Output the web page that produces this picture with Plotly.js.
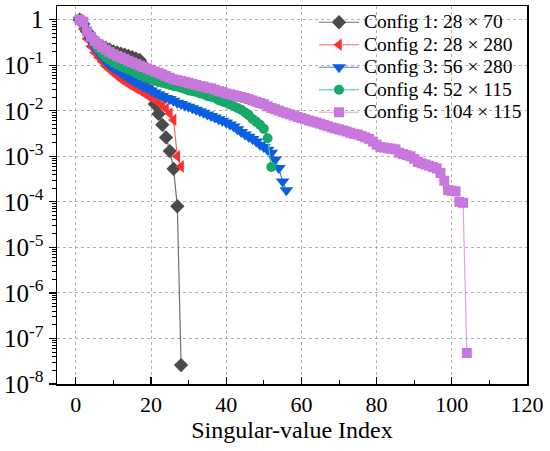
<!DOCTYPE html>
<html>
<head>
<meta charset="utf-8">
<script src="https://cdn.plot.ly/plotly-3.0.1.min.js"></script>
<style>html,body{margin:0;padding:0;background:#fff;}#chart{width:550px;height:451px;}</style>
</head>
<body>
<div id="chart"></div>
<script>
// Series names
var seriesNames = ["Config 1: 28 \u00d7 70", "Config 2: 28 \u00d7 280", "Config 3: 56 \u00d7 280", "Config 4: 52 \u00d7 115", "Config 5: 104 \u00d7 115"];

// Normalised singular values, index starts at 1
var config1 = [1.0, 0.8, 0.55, 0.42, 0.34, 0.29, 0.26, 0.24, 0.22, 0.2,
  0.19, 0.18, 0.17, 0.16, 0.15, 0.14, 0.13, 0.1, 0.052, 0.027,
  0.014, 0.0085, 0.0049, 0.0026, 0.0013, 0.00053, 0.00008, 2.6e-8];

var config2 = [1.0, 0.62, 0.38, 0.26, 0.19, 0.15, 0.12, 0.095, 0.08, 0.068,
  0.058, 0.05, 0.044, 0.039, 0.035, 0.031, 0.028, 0.025, 0.022, 0.02,
  0.018, 0.015, 0.013, 0.011, 0.0087, 0.0063, 0.001, 0.0006];

var config3 = [1.0, 0.72, 0.48, 0.34, 0.25, 0.19, 0.15, 0.12, 0.1, 0.088,
  0.077, 0.068, 0.06, 0.053, 0.047, 0.042, 0.038, 0.034, 0.031, 0.028,
  0.025, 0.023, 0.021, 0.019, 0.018, 0.0165, 0.015, 0.014, 0.013, 0.0122,
  0.0113, 0.0105, 0.0097, 0.009, 0.0083, 0.0077, 0.0071, 0.0065, 0.006, 0.0055,
  0.005, 0.0045, 0.0039, 0.0034, 0.003, 0.0027, 0.0024, 0.0021, 0.0018, 0.0016,
  0.0014, 0.0012, 0.00085, 0.00055, 0.00028, 0.00018];

var config4 = [1.0, 0.8, 0.55, 0.4, 0.3, 0.23, 0.18, 0.15, 0.13, 0.115,
  0.103, 0.095, 0.087, 0.08, 0.074, 0.068, 0.063, 0.058, 0.053, 0.049,
  0.046, 0.043, 0.041, 0.039, 0.037, 0.035, 0.034, 0.032, 0.03, 0.028,
  0.027, 0.026, 0.024, 0.023, 0.021, 0.02, 0.019, 0.017, 0.016, 0.015,
  0.0138, 0.0125, 0.0115, 0.0105, 0.0092, 0.008, 0.0066, 0.0057, 0.0049, 0.004,
  0.0025, 0.00058];

var config5 = [1.0, 0.9, 0.55, 0.42, 0.34, 0.29, 0.25, 0.22, 0.195, 0.175,
  0.16, 0.148, 0.136, 0.125, 0.115, 0.106, 0.098, 0.091, 0.085, 0.079,
  0.073, 0.068, 0.063, 0.058, 0.053, 0.049, 0.047, 0.045, 0.043, 0.041,
  0.039, 0.037, 0.035, 0.034, 0.032, 0.031, 0.029, 0.027, 0.026, 0.024,
  0.023, 0.022, 0.021, 0.02, 0.019, 0.018, 0.0168, 0.0158, 0.0148, 0.014,
  0.0125, 0.0115, 0.0108, 0.0101, 0.0094, 0.0088, 0.0083, 0.0078, 0.0073, 0.0069,
  0.0065, 0.0061, 0.0058, 0.0055, 0.0052, 0.0049, 0.0046, 0.0043, 0.0041, 0.0039,
  0.0037, 0.0035, 0.0033, 0.0031, 0.003, 0.0028, 0.0026, 0.0024, 0.0021, 0.0018,
  0.0016, 0.00155, 0.0015, 0.00147, 0.00142, 0.0012, 0.00112, 0.00106, 0.001, 0.00088,
  0.00075, 0.0007, 0.00066, 0.00062, 0.00058, 0.00054, 0.00043, 0.00029, 0.00018, 0.000175,
  0.00017, 0.0001, 0.000095, 4.8e-8];

var seriesValues = [config1, config2, config3, config4, config5];

// Axis ticks
var xTickVals = [0, 20, 40, 60, 80, 100, 120];
var yTickVals = [1, 1e-1, 1e-2, 1e-3, 1e-4, 1e-5, 1e-6, 1e-7, 1e-8];
var yTickText = ["1", "10<sup>-1</sup>", "10<sup>-2</sup>", "10<sup>-3</sup>", "10<sup>-4</sup>",
  "10<sup>-5</sup>", "10<sup>-6</sup>", "10<sup>-7</sup>", "10<sup>-8</sup>"];

// Styles
var markerColors = ["#4a4a4a", "#ff3030", "#0a5fe0", "#18a868", "#c878dc"];
var lineColors = ["#707070", "#ff6a6a", "#3f86f0", "#4cc08c", "#dfa0ee"];
var symbols = ["diamond", "triangle-left", "triangle-down", "circle", "square"];
var sizes = [11, 11, 12, 10, 10];

var traces = seriesValues.map(function (vals, k) {
  var xs = vals.map(function (v, i) { return i + 1; });
  return {
    x: xs, y: vals,
    name: '<span style="font-size:19.5px">' + seriesNames[k] + '</span>',
    type: "scatter", mode: "lines+markers",
    line: {color: lineColors[k], width: 1.2},
    marker: {symbol: symbols[k], size: sizes[k], color: markerColors[k], line: {width: 0}}
  };
});

var minorVals = [];
for (var e = -8; e <= 0; e++) {
  for (var m = 2; m <= 9; m++) { minorVals.push(m * Math.pow(10, e)); }
}

var FAM = "Liberation Serif";

var layout = {
  width: 550, height: 451,
  margin: {l: 57, r: 23, t: 6, b: 67},
  paper_bgcolor: "#fff", plot_bgcolor: "#fff",
  font: {family: FAM, color: "#000", size: 18},
  showlegend: true,
  legend: {
    x: 1, xanchor: "right", y: 1, yanchor: "top",
    bgcolor: "rgba(0,0,0,0)", borderwidth: 0,
    font: {family: FAM, size: 15, color: "#000"},
    tracegroupgap: 0, itemwidth: 40
  },
  xaxis: {
    range: [-5, 120],
    tickmode: "array", tickvals: xTickVals,
    ticks: "inside", ticklen: 7, tickwidth: 1.2, tickcolor: "#000",
    minor: {ticks: "inside", ticklen: 4, tickwidth: 1, tickcolor: "#000", dtick: 10, showgrid: false},
    showgrid: true, gridcolor: "#b0b0b0", griddash: "dot", gridwidth: 1,
    showline: true, linecolor: "#000", linewidth: 1.5, mirror: true,
    zeroline: false,
    tickfont: {family: FAM, size: 22, color: "#000"},
    title: {text: "Singular-value Index", font: {family: FAM, size: 24, color: "#000"}, standoff: 1}
  },
  yaxis: {
    type: "log",
    range: [-8, 0.3],
    tickmode: "array", tickvals: yTickVals, ticktext: yTickText,
    ticks: "outside", ticklen: 7, tickwidth: 1.2, tickcolor: "#000",
    minor: {tickmode: "array", tickvals: minorVals, ticks: "outside", ticklen: 4, tickwidth: 1, tickcolor: "#000", showgrid: false},
    showgrid: true, gridcolor: "#b0b0b0", griddash: "dot", gridwidth: 1,
    showline: true, linecolor: "#000", linewidth: 1.5, mirror: true,
    zeroline: false,
    tickfont: {family: FAM, size: 25, color: "#000"}
  }
};

Plotly.newPlot("chart", traces, layout, {displayModeBar: false, staticPlot: true});
</script>
</body>
</html>
